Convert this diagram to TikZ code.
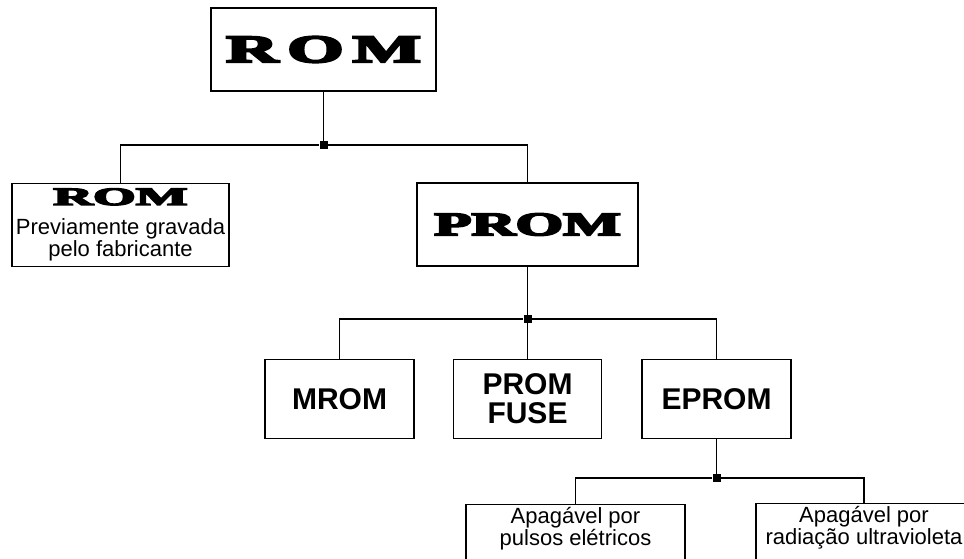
\documentclass[tikz,border=0pt]{standalone}
\usepackage{fontspec}
\usepackage{graphicx}
\setsansfont{Liberation Sans}
\newfontfamily\heavyserif[BoldFeatures={FakeBold=5}]{Liberation Serif}
\usetikzlibrary{positioning}

% wide black serif used for the ROM / PROM titles
\newcommand{\heavy}[3]{\scalebox{#1}[1]{\fontsize{#2}{#2}\selectfont\heavyserif\bfseries #3}}

\tikzset{
  box/.style={draw, line width=1.4pt, inner sep=0pt, align=center},
  wire/.style={line width=1.4pt},
  junction/.style={fill, rectangle, minimum size=8pt, inner sep=0pt},
  bigsans/.style={font=\fontsize{30}{29}\selectfont\sffamily\bfseries},
  smallsans/.style={font=\fontsize{22}{22}\selectfont\sffamily},
}

\begin{document}
\begin{tikzpicture}[x=1pt, y=-1pt]
\useasboundingbox (0,0) rectangle (964,559);
\clip (0,0) rectangle (964,559);

% top level
\node[box, minimum width=225pt, minimum height=83pt] (rom) at (323.5,49.5)
    {\heavy{1.85}{39}{R\hspace{5pt}O\hspace{5pt}M}};
\node[junction] (j1) at (323.5,145) {};

% second level
\node[box, smallsans, minimum width=217pt, minimum height=83pt] (romfab) at (120.5,225)
    {\heavy{2.2}{25}{ROM}\\[8pt] Previamente gravada\\ pelo fabricante};
\node[box, minimum width=221pt, minimum height=83pt] (prom) at (527.5,224.5)
    {\heavy{1.85}{33}{PROM}};
\node[junction] (j2) at (527.5,319) {};

% PROM family
\node[box, bigsans, minimum width=149pt, minimum height=79pt] (mrom) at (339.5,399) {MROM};
\node[box, bigsans, minimum width=148pt, minimum height=79pt] (promfuse) at (527.5,399) {PROM\\FUSE};
\node[box, bigsans, minimum width=149pt, minimum height=79pt] (eprom) at (716.5,399) {EPROM};
\node[junction] (j3) at (716.5,478) {};

% erasable kinds (cut by the lower edge)
\node[box, minimum width=219pt, minimum height=90pt, anchor=north] (eletrico) at (575.5,504) {};
\node[smallsans, align=center, inner sep=0pt, anchor=north] (eletricotxt)
    at ([yshift=-3.5pt]eletrico.north) {Apagável por\\pulsos elétricos};
\node[box, minimum width=216pt, minimum height=90pt, anchor=north] (uv) at (864,503) {};
\node[smallsans, align=center, inner sep=0pt, anchor=north] (uvtxt)
    at ([yshift=-3.5pt]uv.north) {Apagável por\\radiação ultravioleta};

% connectors
\draw[wire] (rom) -- (j1);
\draw[wire] (romfab.north) |- (j1) -| (prom.north);
\draw[wire] (prom) -- (j2);
\draw[wire] (mrom.north) |- (j2) -| (eprom.north);
\draw[wire] (promfuse) -- (j2);
\draw[wire] (eprom) -- (j3);
\draw[wire] (eletrico.north) |- (j3) -| (uv.north);
\end{tikzpicture}
\end{document}
